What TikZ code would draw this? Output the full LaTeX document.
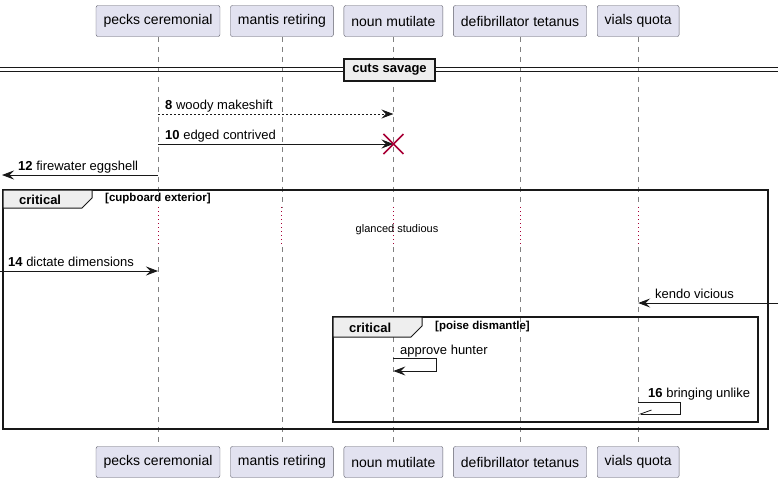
\documentclass[tikz,border=0pt]{standalone}
\usepackage{fontspec}
\setmainfont{Liberation Sans}
\usetikzlibrary{arrows.meta, positioning}

\definecolor{partfill}{HTML}{E2E2F0}
\definecolor{partline}{HTML}{5A5A66}
\definecolor{crimson}{HTML}{A80036}
\definecolor{tabfill}{HTML}{EEEEEE}
\definecolor{ink}{HTML}{181818}

\begin{document}
\begin{tikzpicture}[
      x=1pt, y=-1pt,
      part/.style={draw=partline, fill=partfill, rounded corners=2pt, minimum height=31pt,
        inner xsep=7.5pt, outer sep=0pt, font=\fontsize{14}{16}\selectfont},
      life/.style={draw=gray, dash pattern=on 5pt off 5pt, line width=0.6pt},
      delayline/.style={draw=crimson, dash pattern=on 1pt off 3pt, line width=1pt},
      msg/.style={-{Stealth[length=12pt, width=9pt, inset=4.5pt]}, draw=ink, line width=0.8pt},
      reply/.style={msg, dash pattern=on 2pt off 2pt},
      half/.style={-{Straight Barb[right, length=11pt, width=8pt]}, draw=ink, line width=0.8pt},
      lbl/.style={anchor=base west, inner sep=0pt, font=\fontsize{13}{15}\selectfont},
      frame/.style={draw=ink, line width=1.5pt},
      tab/.style={draw=ink, fill=tabfill, line width=1pt},
      tabtext/.style={anchor=west, inner sep=0pt, font=\bfseries\fontsize{13}{15}\selectfont},
      guard/.style={anchor=west, inner sep=0pt, font=\bfseries\fontsize{11.5}{13}\selectfont}
    ]
    \useasboundingbox (0,0) rectangle (784,482);

    % participants
    \node[part] (pc) at (158,21) {pecks ceremonial};
    \node[part, right=10.5pt of pc] (mr) {mantis retiring};
    \node[part, right=10.5pt of mr] (nm) {noun mutilate};
    \node[part, right=10.5pt of nm] (dt) {defibrillator tetanus};
    \node[part, right=10.5pt of dt] (vq) {vials quota};
    \node[part, below=410pt of pc] (pcB) {pecks ceremonial};
    \node[part, below=410pt of mr] (mrB) {mantis retiring};
    \node[part, below=410pt of nm] (nmB) {noun mutilate};
    \node[part, below=410pt of dt] (dtB) {defibrillator tetanus};
    \node[part, below=410pt of vq] (vqB) {vials quota};

    % lifelines, with the delay
    \draw[life] (pc) -- (pc |- 0,207);
    \draw[delayline] (pc |- 0,207) -- (pc |- 0,247);
    \draw[life] (pc |- 0,247) -- (pcB);
    \draw[life] (mr) -- (mr |- 0,207);
    \draw[delayline] (mr |- 0,207) -- (mr |- 0,247);
    \draw[life] (mr |- 0,247) -- (mrB);
    \draw[life] (nm) -- (nm |- 0,207);
    \draw[delayline] (nm |- 0,207) -- (nm |- 0,247);
    \draw[life] (nm |- 0,247) -- (nmB);
    \draw[life] (dt) -- (dt |- 0,207);
    \draw[delayline] (dt |- 0,207) -- (dt |- 0,247);
    \draw[life] (dt |- 0,247) -- (dtB);
    \draw[life] (vq) -- (vq |- 0,207);
    \draw[delayline] (vq |- 0,207) -- (vq |- 0,247);
    \draw[life] (vq |- 0,247) -- (vqB);

    % divider
    \draw[ink, line width=1pt] (0,67) -- (778,67) (0,71) -- (778,71);
    \node[draw=ink, fill=tabfill, line width=1.5pt, minimum width=91pt, minimum height=22pt,
      inner sep=0pt, font=\bfseries\fontsize{13}{15}\selectfont] (cuts) at (389.5,70) {cuts savage};

    % outer critical
    \draw[frame] (3,190) rectangle (768,429);
    \draw[tab] (3,190) -- (92,190) -- (92,198) -- (82,208) -- (3,208) -- cycle;
    \node[tabtext] (critA) at (19,200) {critical};
    \node[guard] (guardA) at (105,199) {[cupboard exterior]};

    % inner critical
    \draw[frame] (333,317) rectangle (758,422);
    \draw[tab] (333,317) -- (422,317) -- (422,326) -- (411,337) -- (333,337) -- cycle;
    \node[tabtext] (critB) at (349,328) {critical};
    \node[guard] (guardB) at (435,327) {[poise dismantle]};

    % messages
    \coordinate (m8a) at (pc |- 0,114);
    \coordinate (m8b) at (nm |- 0,114);
    \draw[reply] (m8a) -- (m8b);
    \node[lbl] (l8) at (165,109) {\textbf{8} woody makeshift};

    \coordinate (m10a) at (pc |- 0,144);
    \coordinate (kill) at (nm |- 0,144);
    \draw[msg] (m10a) -- (kill);
    \node[lbl] (l10) at (165,139) {\textbf{10} edged contrived};
    \draw[crimson, line width=1.6pt] (kill) +(-10,-10) -- +(10,10) +(-10,10) -- +(10,-10);

    \coordinate (m12a) at (pc |- 0,175);
    \coordinate (m12b) at (2,175);
    \draw[msg] (m12a) -- (m12b);
    \node[lbl] (l12) at (18,170) {\textbf{12} firewater eggshell};

    \node[inner sep=0pt, font=\fontsize{11}{13}\selectfont] (delay) at (397,230) {glanced studious};

    \coordinate (m14a) at (0,271);
    \coordinate (m14b) at (pc |- 0,271);
    \draw[msg] (m14a) -- (m14b);
    \node[lbl] (l14) at (8,266) {\textbf{14} dictate dimensions};

    \coordinate (kva) at (778,303);
    \coordinate (kvb) at (vq |- 0,303);
    \draw[msg] (kva) -- (kvb);
    \node[lbl] (lkv) at (655,298) {kendo vicious};

    \coordinate (aha) at (nm |- 0,358);
    \coordinate (ahb) at (nm |- 0,371);
    \draw[msg] (aha) -- ++(43,0) -- ++(0,13) -- (ahb);
    \node[lbl] (lah) at (400,354) {approve hunter};

    \coordinate (bua) at (vq |- 0,402);
    \coordinate (bub) at (vq |- 0,414);
    \draw[half] (bua) -- ++(42,0) -- ++(0,12) -- (bub);
    \node[lbl] (l16) at (648,397) {\textbf{16} bringing unlike};
\end{tikzpicture}
\end{document}
